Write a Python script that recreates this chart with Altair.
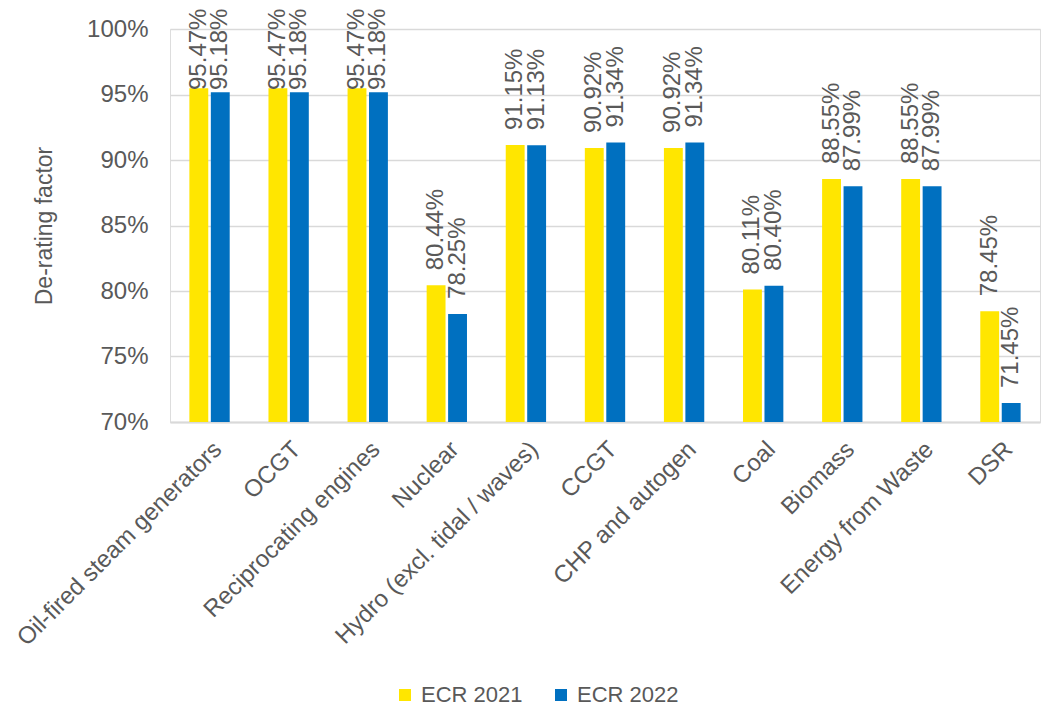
import altair as alt
import pandas as pd

categories = ["Oil-fired steam generators", "OCGT", "Reciprocating engines", "Nuclear",
              "Hydro (excl. tidal / waves)", "CCGT", "CHP and autogen", "Coal",
              "Biomass", "Energy from Waste", "DSR"]
ecr_2021 = [95.47, 95.47, 95.47, 80.44, 91.15, 90.92, 90.92, 80.11, 88.55, 88.55, 78.45]
ecr_2022 = [95.18, 95.18, 95.18, 78.25, 91.13, 91.34, 91.34, 80.40, 87.99, 87.99, 71.45]
series = ["ECR 2021", "ECR 2022"]
colors = ["#FFE600", "#0070C0"]

rows = []
for i, c in enumerate(categories):
    rows.append({"cat": c, "series": series[0], "value": ecr_2021[i] / 100})
    rows.append({"cat": c, "series": series[1], "value": ecr_2022[i] / 100})
df = pd.DataFrame(rows)

FONT = "Liberation Sans"
GREY = "#595959"
FS = 24

x = alt.X("cat:N", sort=categories, title=None,
          scale=alt.Scale(paddingInner=0.49, paddingOuter=0.245),
          axis=alt.Axis(labelAngle=-45, labelFontSize=FS, labelColor=GREY, labelFont=FONT,
                        ticks=False, domainColor="#D9D9D9", domainWidth=2,
                        labelPadding=15, labelLimit=400))
xo = alt.XOffset("series:N", sort=series, scale=alt.Scale(paddingInner=0.12))
y = alt.Y("value:Q", title="De-rating factor",
          scale=alt.Scale(domain=[0.70, 1.0], zero=False, nice=False),
          axis=alt.Axis(format=".0%", values=[0.70, 0.75, 0.80, 0.85, 0.90, 0.95, 1.0],
                        labelFontSize=FS, labelColor=GREY, labelFont=FONT,
                        titleFontSize=23, titleColor=GREY, titleFont=FONT, titleFontWeight="normal",
                        titlePadding=30, domain=False, ticks=False, labelPadding=22,
                        gridColor="#D9D9D9", gridWidth=1.5))

color = alt.Color("series:N", sort=series, scale=alt.Scale(domain=series, range=colors),
                  legend=alt.Legend(title=None, orient="none", direction="horizontal",
                                    legendX=224, legendY=655, symbolType="square",
                                    symbolSize=144, symbolStrokeWidth=0,
                                    labelFontSize=22, labelColor=GREY, labelFont=FONT,
                                    labelOffset=5, columnPadding=27))

bars = alt.Chart(df).mark_bar().encode(
    x=x, xOffset=xo, y=y, y2=alt.datum(0.70), color=color
)

labels = alt.Chart(df).transform_calculate(
    labelpos="min(datum.value, 0.942)",
    label="format(datum.value, '.2%')"
).mark_text(angle=270, align="left", baseline="middle", dx=15,
            fontSize=FS, font=FONT, color=GREY).encode(
    x=alt.X("cat:N", sort=categories),
    xOffset=alt.XOffset("series:N", sort=series),
    y=alt.Y("labelpos:Q"),
    text="label:N"
)

chart = alt.layer(bars, labels).properties(
    width=870, height=393,
    autosize=alt.AutoSizeParams(type="none"),
    padding={"left": 170, "top": 29, "right": 2, "bottom": 285}
).configure_view(stroke=None).configure(background="white")

chart.save("out.html", embed_options={"renderer": "svg", "actions": False})
